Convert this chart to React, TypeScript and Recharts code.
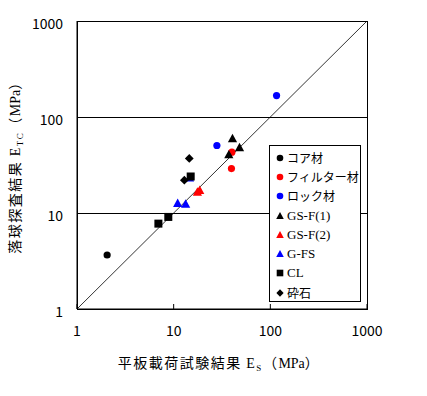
import React from 'react'
import {
  ScatterChart,
  Scatter,
  XAxis,
  YAxis,
  ReferenceLine,
  ReferenceArea
} from 'recharts'

// values (MPa, log-log)
const coreData = [{ x: 2.05, y: 3.65 }]
const filterData = [
  { x: 40, y: 43 },
  { x: 39.6, y: 29 }
]
const rockData = [
  { x: 116, y: 167 },
  { x: 28, y: 50.5 }
]
const gsf1Data = [
  { x: 40.6, y: 59.5 },
  { x: 48, y: 48 },
  { x: 37.2, y: 40.5 }
]
const gsf2Data = [
  { x: 17.6, y: 16.5 },
  { x: 18.6, y: 17.2 }
]
const gfsData = [
  { x: 11, y: 12.6 },
  { x: 13.3, y: 12.4 },
  { x: 14.6, y: 23.2 }
]
const clData = [
  { x: 6.95, y: 7.75 },
  { x: 8.8, y: 9.1 },
  { x: 15, y: 24 }
]
const rubbleData = [
  { x: 14.5, y: 37 },
  { x: 12.9, y: 22 }
]

const ticks = [1, 10, 100, 1000]
const gridLevels = [10, 100]

const series = [
  { name: 'コア材', data: coreData, color: '#000', kind: 'circle' },
  { name: 'フィルター材', data: filterData, color: '#ff0000', kind: 'circle' },
  { name: 'ロック材', data: rockData, color: '#0000ff', kind: 'circle' },
  { name: 'GS-F(1)', data: gsf1Data, color: '#000', kind: 'triangle' },
  { name: 'GS-F(2)', data: gsf2Data, color: '#ff0000', kind: 'triangle' },
  { name: 'G-FS', data: gfsData, color: '#0000ff', kind: 'triangle' },
  { name: 'CL', data: clData, color: '#000', kind: 'square' },
  { name: '砕石', data: rubbleData, color: '#000', kind: 'diamond' }
]

const FONT = '"Noto Sans CJK JP", "DejaVu Sans", sans-serif'
const SERIF = '"Liberation Serif", "DejaVu Serif", serif'

function Marker({ kind, cx, cy, color, r }: { kind: string; cx: number; cy: number; color: string; r: number }) {
  if (kind === 'circle') return <circle cx={cx} cy={cy} r={r} fill={color} />
  if (kind === 'triangle') {
    const h = r * 2
    return (
      <polygon
        points={`${cx},${cy - h * 0.6} ${cx - r * 1.15},${cy + h * 0.45} ${cx + r * 1.15},${cy + h * 0.45}`}
        fill={color}
      />
    )
  }
  if (kind === 'square') return <rect x={cx - r} y={cy - r} width={r * 2} height={r * 2} fill={color} />
  return (
    <polygon
      points={`${cx},${cy - r * 1.1} ${cx + r * 1.1},${cy} ${cx},${cy + r * 1.1} ${cx - r * 1.1},${cy}`}
      fill={color}
    />
  )
}

function LegendBox() {
  return (
    <div
      style={{
        position: 'absolute',
        left: 269,
        top: 145,
        border: '1px solid #000',
        background: '#fff',
        width: 92,
        height: 157,
        boxSizing: 'border-box',
        paddingTop: 2,
        fontFamily: FONT,
        fontSize: 12
      }}
    >
      {series.map(s => (
        <div key={s.name} style={{ display: 'flex', alignItems: 'center', height: 19.3 }}>
          <svg width={14} height={12} style={{ marginLeft: 3 }}>
            <Marker kind={s.kind} cx={7} cy={6} color={s.color} r={3.3} />
          </svg>
          <span
            style={{
              whiteSpace: 'nowrap',
              lineHeight: '12px',
              fontFamily: /^[A-Z]/.test(s.name) ? SERIF : FONT,
              fontSize: /^[A-Z]/.test(s.name) ? 13 : 12
            }}
          >
            {s.name}
          </span>
        </div>
      ))}
    </div>
  )
}

const XLabel = (props: any) => {
  const { viewBox } = props
  const cx = viewBox.x + viewBox.width / 2
  return (
    <text x={cx - 3} y={368} textAnchor="middle" fontFamily={FONT} fontSize={14} letterSpacing={1.5} fill="#000">
      平板載荷試験結果 <tspan fontFamily={SERIF}>E</tspan>
      <tspan fontSize={9} dy={3} fontFamily={SERIF}>S</tspan>
      <tspan dy={-3}>（</tspan>
      <tspan fontFamily={SERIF} letterSpacing={0}>MPa</tspan>
      <tspan>）</tspan>
    </text>
  )
}

const YLabel = (props: any) => {
  const { viewBox } = props
  const cy = viewBox.y + viewBox.height / 2
  return (
    <text
      x={0}
      y={0}
      transform={`translate(20, ${cy - 1}) rotate(-90)`}
      textAnchor="middle"
      fontFamily={FONT}
      fontSize={14}
      letterSpacing={1.5}
      fill="#000"
    >
      落球探査結果 <tspan fontFamily={SERIF}>E</tspan>
      <tspan fontSize={9} dy={3} fontFamily={SERIF}>TC</tspan>
      <tspan dy={-3}>（</tspan>
      <tspan fontFamily={SERIF} letterSpacing={0}>MPa</tspan>
      <tspan>）</tspan>
    </text>
  )
}

export default function App() {
  return (
    <div style={{ position: 'absolute', left: 0, top: 0, width: 427, height: 396, background: '#fff' }}>
      <ScatterChart width={427} height={396} margin={{ top: 21, right: 60, left: 17, bottom: 47 }}>
        <XAxis
          type="number"
          dataKey="x"
          scale="log"
          domain={[1, 1000]}
          ticks={ticks}
          allowDataOverflow
          height={40}
          stroke="#000"
          tickSize={-5}
          tickMargin={22}
          tick={{ fill: '#000', fontSize: 14, fontFamily: FONT }}
          label={<XLabel />}
        />
        <YAxis
          type="number"
          dataKey="y"
          scale="log"
          domain={[1, 1000]}
          ticks={ticks}
          allowDataOverflow
          width={60}
          stroke="#000"
          tickLine={false}
          tickSize={0}
          tickMargin={14}
          tick={{ fill: '#000', fontSize: 14, fontFamily: FONT, dy: 3 }}
          label={<YLabel />}
        />
        <ReferenceArea
          x1={1}
          x2={1000}
          y1={1}
          y2={1000}
          fill="none"
          stroke="#000"
          strokeWidth={1}
          shapeRendering="crispEdges"
        />
        {gridLevels.map(v => (
          <ReferenceLine key={v} y={v} stroke="#000" strokeWidth={1} shapeRendering="crispEdges" />
        ))}
        <ReferenceLine
          segment={[
            { x: 1, y: 1 },
            { x: 1000, y: 1000 }
          ]}
          stroke="#000"
          strokeWidth={0.8}
        />
        {series.map(s => (
          <Scatter
            key={s.name}
            name={s.name}
            data={s.data}
            fill={s.color}
            isAnimationActive={false}
            shape={(p: any) => (
              <Marker kind={s.kind} cx={p.cx} cy={p.cy} color={s.color} r={s.kind === 'circle' ? 3.6 : 4} />
            )}
          />
        ))}
      </ScatterChart>
      <LegendBox />
    </div>
  )
}
